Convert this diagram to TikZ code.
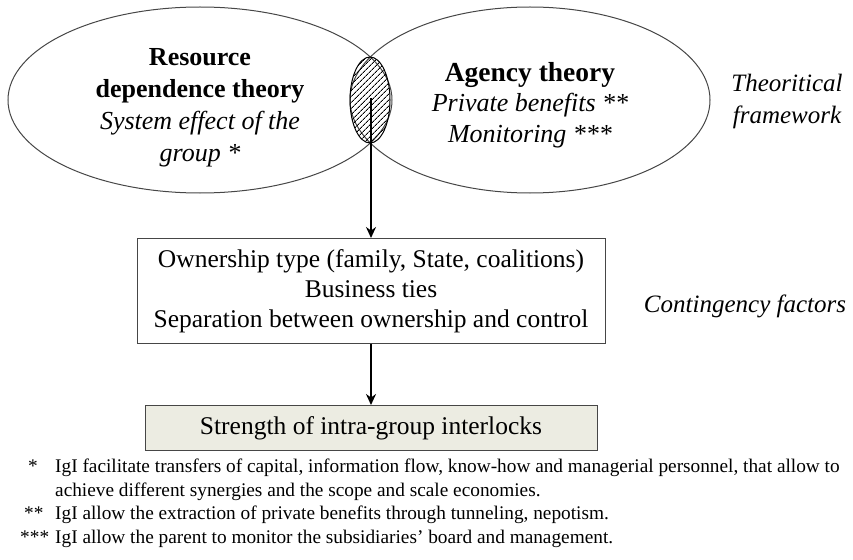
\documentclass[tikz,border=0pt]{standalone}
\usepackage{fontspec}
\setmainfont{Liberation Serif}[
  UprightFont={Liberation Serif},
  BoldFont={Liberation Serif Bold},
  ItalicFont={Liberation Serif Italic},
  BoldItalicFont={Liberation Serif Bold Italic}]
\usetikzlibrary{arrows.meta,positioning,shapes.geometric,patterns.meta}
\definecolor{boxgray}{RGB}{236,236,226}
\definecolor{linegray}{RGB}{70,70,70}

\tikzset{
  theory/.style={draw=linegray,ellipse,line width=1pt},
  factorbox/.style={draw=linegray,line width=1pt,align=center},
  flow/.style={-{Stealth[length=11pt,width=10pt]},line width=1.8pt},
  sidelabel/.style={font=\fontsize{25}{32}\selectfont\itshape,align=center},
  note/.style={anchor=base west,inner sep=0pt,font=\fontsize{19.3}{22}\selectfont}
}

\begin{document}
\begin{tikzpicture}[x=1pt,y=-1pt]
    \useasboundingbox (0,0) rectangle (853,559);

    % the two theories
    \node[theory,minimum width=384,minimum height=186] (rdt) at (200,100) {};
    \node[theory,minimum width=360,minimum height=186] (agency) at (530,100) {};
    \node[draw=black,ellipse,line width=1pt,minimum width=40,minimum height=86,
          pattern={Lines[angle=45,distance=4pt,line width=1pt]}] (overlap) at (370,100) {};
    \coordinate (start) at (371,98);

    \node[align=center,font=\fontsize{26}{32}\selectfont] (rdttext) at (200,108)
      {\bfseries Resource\\
       \bfseries dependence theory\\
       \itshape System effect of the\\
       \itshape group *};
    \node[align=center,font=\fontsize{26}{30.5}\selectfont] (agencytext) at (530,105)
      {\fontsize{27.5}{30.5}\selectfont\bfseries Agency theory\\
       \itshape Private benefits **\\
       \itshape Monitoring ***};

    % factors and outcome
    \node[factorbox,minimum width=468,minimum height=105,
          font=\fontsize{25.5}{30}\selectfont] (factors) at (371,291)
      {Ownership type (family, State, coalitions)\\Business ties\\Separation between ownership and control};
    \node[factorbox,fill=boxgray,minimum width=452,minimum height=45,
          font=\fontsize{25.5}{28}\selectfont] (strength) at (371,428)
      {Strength of intra-group interlocks};

    \draw[flow] (start) -- (factors.north);
    \draw[flow] (factors.south) -- (strength.north);

    \node[sidelabel] (framework) at (787,101) {Theoritical\\framework};
    \node[sidelabel] (contingency) at (745,306) {Contingency factors};

    % notes
    \node[note] (mark1) at (28,472) {*};
    \node[note] (note1a) at (55,472) {IgI facilitate transfers of capital, information flow, know-how and managerial personnel, that allow to};
    \node[note] (note1b) at (55,496) {achieve different synergies and the scope and scale economies.};
    \node[note] (mark2) at (24,519) {**};
    \node[note] (note2) at (55,519) {IgI allow the extraction of private benefits through tunneling, nepotism.};
    \node[note] (mark3) at (20,543) {***};
    \node[note] (note3) at (55,543) {IgI allow the parent to monitor the subsidiaries' board and management.};
\end{tikzpicture}
\end{document}
